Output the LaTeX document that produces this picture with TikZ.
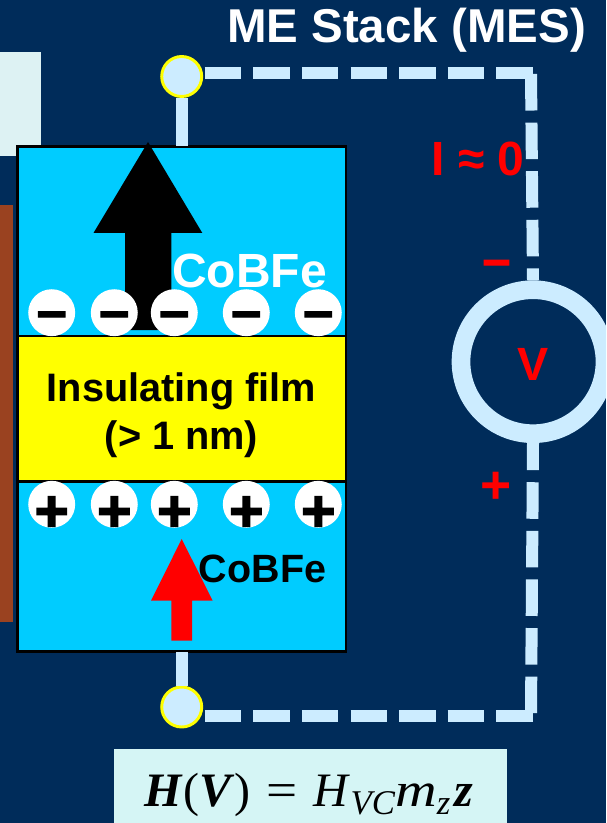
\documentclass[tikz,border=0pt]{standalone}
\usepackage{amsmath}
\usepackage{fontspec}
\setmainfont{Liberation Sans}
\newfontface\heavyfont[FakeBold=2.5]{Liberation Sans Bold}
\newfontfamily\formulafont{Liberation Serif}
\usetikzlibrary{positioning}

\definecolor{navyback}{HTML}{002C5A}
\definecolor{wireblue}{HTML}{CCECFF}
\definecolor{cobfeblue}{HTML}{00CCFF}
\definecolor{paleleft}{HTML}{DDF2F3}
\definecolor{paleformula}{HTML}{D5F5F5}
\definecolor{brownbar}{HTML}{9A4220}
\definecolor{filmyellow}{RGB}{255,255,0}

\tikzset{
	every node/.style={font=\bfseries},
	layer/.style={draw=black,line width=2.2pt},
	wire/.style={draw=wireblue,line width=9pt},
	dashwire/.style={wire,dash pattern=on 27.4pt off 9.05pt},
	pin/.style={circle,draw=filmyellow,fill=wireblue,line width=2.2pt,minimum size=30pt,inner sep=0pt},
	charge/.style={circle,fill=white,minimum size=35.2pt,inner sep=0pt,text=black},
	redtext/.style={text=red,inner sep=0pt}
}

\newcommand{\sized}[1]{\fontsize{#1}{#1}\selectfont}
\newcommand{\chargesign}[3]{\smash{\raisebox{#1}{\makebox[0pt]{\heavyfont\sized{#2}#3}}}}
\newcommand{\lowered}[1]{\raisebox{-6pt}{\sized{26}\textit{#1}}}

\begin{document}
\begin{tikzpicture}[x=0.75pt,y=-0.75pt]
	\useasboundingbox (0,0) rectangle (606,823);
	\clip (0,0) rectangle (606,823);
	\fill[navyback] (0,0) rectangle (606,823);

	% side pieces
	\fill[paleleft] (0,52) rectangle (41,156);
	\fill[brownbar] (0,205) rectangle (13,622);

	% stack layers
	\draw[layer,fill=cobfeblue] (17.5,146.5) rectangle (346,336);
	\draw[layer,fill=filmyellow] (17.5,336) rectangle (346,481.5);
	\draw[layer,fill=cobfeblue] (17.5,481.5) rectangle (346,651.5);

	% magnetization arrows
	\fill[black] (148,142) -- (202.3,233) -- (171.3,233) -- (171.3,330) -- (125,330) -- (125,233) -- (93.5,233) -- cycle;
	\fill[red] (181.7,539) -- (212.7,600.7) -- (192,600.7) -- (192,640.7) -- (171.3,640.7) -- (171.3,600.7) -- (151,600.7) -- cycle;

	\node[text=white,inner sep=0pt] (TopLabel) at (249.5,271) {\sized{36}CoBFe};
	\node[inner sep=0pt] (BottomLabel) at (262.5,568.5) {\sized{29.6}CoBFe};
	\node[inner sep=0pt,align=center] (Film) at (181.5,415.5) {\sized{29.8}Insulating film\\[7pt]\sized{29.8}(> 1 nm)};

	% charges
	\foreach \cx/\cname in {51.7/a,114.3/b,174.3/c,246.3/d,318.3/e}{
		\node[charge] (Minus\cname) at (\cx,312.7) {\chargesign{-12pt}{40}{–}};
		\node[charge] (Plus\cname) at (\cx,504.3) {\chargesign{-20pt}{44}{+}};
	}

	% circuit
	\node[pin] (TopPin) at (181.7,76.5) {};
	\node[pin] (BottomPin) at (181.7,707) {};
	\node[circle,draw=wireblue,line width=14pt,minimum size=108pt,inner sep=0pt] (Meter) at (533,361.7) {};
	\node[redtext] (MeterLabel) at (533.5,364) {\sized{35}V};

	\coordinate (TopStart) at (204.7,73);
	\coordinate (TopCorner) at (533,73);
	\coordinate (TopTurn) at (531,74);
	\coordinate (BottomStart) at (204.7,716);
	\coordinate (BottomCorner) at (533,716);
	\coordinate (BottomTurn) at (531,713);

	\draw[wire] (TopPin) -- (181.7,146);
	\draw[wire] (BottomPin) -- (181.7,652);
	\draw[dashwire] (TopStart) -- (TopCorner);
	\draw[dashwire] (TopTurn) -- (Meter.north);
	\draw[dashwire,dash phase=7.05pt] (Meter.south) -- (BottomTurn);
	\draw[dashwire] (BottomStart) -- (BottomCorner);

	\node[text=white,inner sep=0pt] (Title) at (406.5,30) {\sized{35.6}ME Stack (MES)};
	\node[redtext] (Current) at (478,159) {\sized{36}I ≈ 0};
	\node[redtext] (MinusSign) at (496.5,268) {\heavyfont\sized{37}–};
	\node[redtext] (PlusSign) at (496.5,488) {\sized{40}+};

	% formula box
	\node[fill=paleformula,minimum width=294.75pt,minimum height=55.5pt,inner sep=0pt] (FormulaBox) at (310.5,786) {};
	\node[anchor=base,inner sep=0pt,text=black,font=\normalfont] (Formula) at (309,806) {\formulafont\sized{36}\textbf{\textit{H}}(\textbf{\textit{V}})\kern12pt\scalebox{1.15}[1]{=}\kern12pt\textit{H}\lowered{VC}\scalebox{1.2}[1]{\textit{m}}\lowered{z}\kern3pt\textbf{\textit{z}}};
\end{tikzpicture}
\end{document}
